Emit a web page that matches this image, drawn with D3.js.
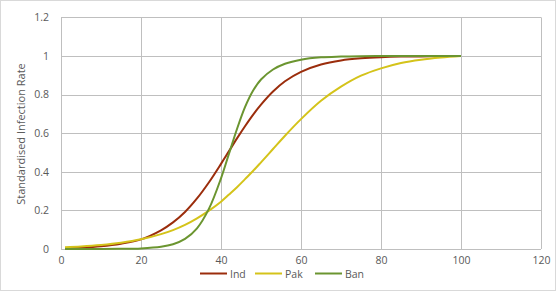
<!DOCTYPE html>
<html><head><meta charset="utf-8">
<script src="https://cdn.jsdelivr.net/npm/d3@7/dist/d3.min.js"></script>
<style>body{margin:0;background:#fff}svg{display:block}text{font-family:"Open Sans","Noto Sans",sans-serif;fill:#595959}</style>
</head><body><svg id="c" width="560" height="292"></svg>
<script>
const xs = [1,5,10,15,20,25,28,31,34,37,40,42,44,46,48,50,53,56,60,65,70,75,80,85,90,95,100];
const ind = [0.0044,0.0075,0.0144,0.0276,0.050,0.097,0.138,0.192,0.262,0.346,0.441,0.507,0.573,0.636,0.695,0.748,0.816,0.869,0.918,0.956,0.977,0.988,0.994,0.997,0.998,0.999,1.0];
const pak = [0.0092,0.0132,0.0208,0.0324,0.050,0.077,0.098,0.125,0.159,0.199,0.245,0.282,0.320,0.362,0.404,0.449,0.518,0.587,0.673,0.768,0.841,0.898,0.936,0.964,0.981,0.992,1.0];
const ban = [0.0000,0.0001,0.0002,0.0008,0.0031,0.0113,0.0244,0.052,0.107,0.209,0.366,0.494,0.622,0.735,0.820,0.878,0.930,0.960,0.981,0.993,0.997,0.999,1.0,1.0,1.0,1.0,1.0];
const seriesNames = ["Ind","Pak","Ban"];
const seriesColors = ["#9b2d0c","#d4c31a","#6b9530"];
const xTicks = [0,20,40,60,80,100,120];
const yTicks = [0,0.2,0.4,0.6,0.8,1,1.2];
const yTitle = "Standardised  Infection Rate";

const svg = d3.select("#c");
svg.append("rect").attr("x",0.5).attr("y",0.5).attr("width",555).attr("height",290)
  .attr("fill","#fff").attr("stroke","#d9d9d9");
const x = d3.scaleLinear().domain([0,120]).range([61,541]);
const y = d3.scaleLinear().domain([0,1.2]).range([249,17.4]);

const grid = svg.append("g");
yTicks.forEach(t=>grid.append("line").attr("x1",x(0)).attr("x2",x(120)).attr("y1",Math.round(y(t))+0.5).attr("y2",Math.round(y(t))+0.5).attr("stroke","#bfbfbf"));
xTicks.forEach(t=>grid.append("line").attr("y1",y(0)).attr("y2",y(1.2)).attr("x1",Math.round(x(t))+0.5).attr("x2",Math.round(x(t))+0.5).attr("stroke","#bfbfbf"));

const yAxis = d3.axisLeft(y).tickValues(yTicks).tickSize(0).tickPadding(12).tickFormat(d=>d3.format("")(+d.toFixed(1)));
const gy = svg.append("g").attr("transform","translate("+x(0)+",0)").call(yAxis);
gy.select(".domain").remove();
gy.selectAll("text").attr("font-size",10.5).style("fill","#595959");
const xAxis = d3.axisBottom(x).tickValues(xTicks).tickSize(0).tickPadding(8);
const gx = svg.append("g").attr("transform","translate(0,"+y(0)+")").call(xAxis);
gx.select(".domain").remove();
gx.selectAll("text").attr("font-size",10.5).style("fill","#595959");

svg.append("text").attr("transform","translate(25,134) rotate(-90)").attr("text-anchor","middle")
  .attr("font-size",11).text(yTitle);

const line = d3.line().x((d,i)=>x(xs[i])).y(d=>y(d)).curve(d3.curveCatmullRom.alpha(0.5));
[ind,pak,ban].forEach((s,i)=>{
  svg.append("path").attr("d",line(s)).attr("fill","none").attr("stroke",seriesColors[i]).attr("stroke-width",2);
});

const legX = [200,255,315];
seriesNames.forEach((n,i)=>{
  svg.append("line").attr("x1",legX[i]).attr("x2",legX[i]+27).attr("y1",273.5).attr("y2",273.5).attr("stroke",seriesColors[i]).attr("stroke-width",2);
  svg.append("text").attr("x",legX[i]+30).attr("y",277.5).attr("font-size",10.5).text(n);
});
</script></body></html>
